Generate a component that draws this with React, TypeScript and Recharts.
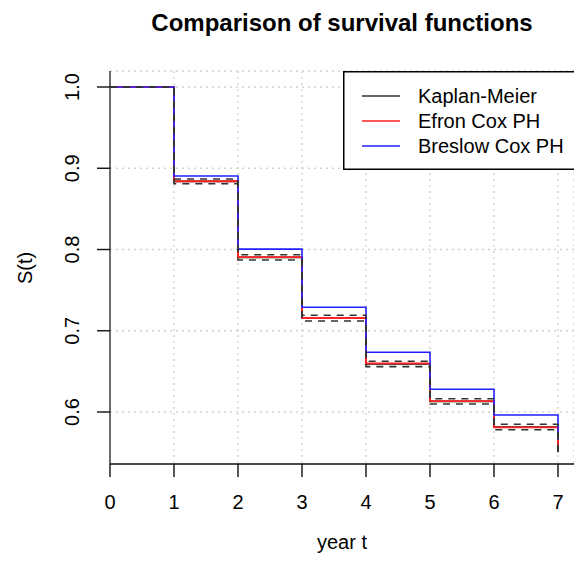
import React from "react";
import { LineChart, Line, XAxis, YAxis, CartesianGrid, Legend } from "recharts";

// ---- data ----
const years = [0, 1, 2, 3, 4, 5, 6, 7];
const kaplanMeier = [1, 0.8839, 0.7903, 0.7155, 0.6591, 0.6131, 0.5815, 0.5505];
const kmLower = [1, 0.881, 0.787, 0.712, 0.6558, 0.6098, 0.5782, 0.548];
const kmUpper = [1, 0.8868, 0.7935, 0.719, 0.6624, 0.6164, 0.5849, 0.553];
const efronCox = [1, 0.884, 0.7905, 0.7157, 0.6599, 0.6135, 0.5812, 0.552];
const breslowCox = [1, 0.8905, 0.8005, 0.7289, 0.6735, 0.628, 0.5963, 0.566];
const xTicks = [0, 1, 2, 3, 4, 5, 6, 7];
const yTicks = [0.6, 0.7, 0.8, 0.9, 1.0];
const legendNames = ["Kaplan-Meier", "Efron Cox PH", "Breslow Cox PH"];
const legendColors = ["#333333", "#ff2020", "#2020ff"];

const data = years.map((t, i) => ({
  t,
  km: kaplanMeier[i],
  lo: kmLower[i],
  hi: kmUpper[i],
  efron: efronCox[i],
  breslow: breslowCox[i],
}));

const FONT = "'Liberation Sans', Arial, Helvetica, sans-serif";

const YTick = (props: any) => {
  const { x, y, payload } = props;
  return (
    <text
      transform={`translate(${x - 18}, ${y}) rotate(-90)`}
      textAnchor="middle"
      fontSize={20}
      fontFamily={FONT}
      fill="#000"
    >
      {Number(payload.value).toFixed(1)}
    </text>
  );
};

const XTick = (props: any) => {
  const { x, y, payload } = props;
  return (
    <text x={x} y={y + 32} textAnchor="middle" fontSize={20} fontFamily={FONT} fill="#000">
      {payload.value}
    </text>
  );
};

const LegendBox = () => (
  <svg width={231} height={100} style={{ display: "block" }}>
    <rect x={0.75} y={0.75} width={260} height={97.5} fill="#fff" stroke="#000" strokeWidth={1.5} />
    {legendNames.map((n, i) => (
      <g key={n}>
        <line x1={19} x2={57} y1={25 + i * 25} y2={25 + i * 25} stroke={legendColors[i]} strokeWidth={1.6} />
        <text x={75} y={32 + i * 25} fontSize={20} fontFamily={FONT} fill="#000">
          {n}
        </text>
      </g>
    ))}
  </svg>
);

export default function App() {
  return (
    <div style={{ position: "absolute", left: 0, top: 0, width: 574, height: 564, background: "#fff" }}>
      <LineChart width={574} height={564} data={data} margin={{ top: 71, right: 0, bottom: 0, left: 0 }}>
        <CartesianGrid stroke="#d3d3d3" strokeDasharray="2 4" strokeWidth={1.4} />
        <XAxis
          dataKey="t"
          type="number"
          domain={[0, 7.25]}
          allowDataOverflow
          ticks={xTicks}
          height={100}
          tickSize={13}
          tickMargin={0}
          tick={<XTick />}
          axisLine={{ stroke: "#111", strokeWidth: 1.4 }}
          tickLine={{ stroke: "#111", strokeWidth: 1.4 }}
        />
        <XAxis
          xAxisId="top"
          orientation="top"
          dataKey="t"
          type="number"
          domain={[0, 7.25]}
          allowDataOverflow
          height={0}
          tick={false}
          tickLine={false}
          axisLine={{ stroke: "#333", strokeWidth: 1.4 }}
        />
        <YAxis
          type="number"
          domain={[0.536, 1.0197]}
          allowDataOverflow
          ticks={yTicks}
          width={110}
          tickSize={13}
          tickMargin={0}
          tick={<YTick />}
          axisLine={{ stroke: "#333", strokeWidth: 1.4 }}
          tickLine={{ stroke: "#111", strokeWidth: 1.4 }}
        />
        <Legend
          layout="vertical"
          align="center"
          verticalAlign="middle"
          content={<LegendBox />}
          wrapperStyle={{ position: "absolute", left: 343, top: 71, width: 231, height: 100 }}
        />
        <Line type="stepAfter" dataKey="km" name="Kaplan-Meier" stroke="#111" strokeWidth={1.6} dot={false} activeDot={false} isAnimationActive={false} />
        <Line type="stepAfter" dataKey="efron" name="Efron Cox PH" stroke="#ff2020" strokeWidth={1.8} dot={false} activeDot={false} isAnimationActive={false} />
        <Line type="stepAfter" dataKey="breslow" name="Breslow Cox PH" stroke="#2020ff" strokeWidth={1.6} dot={false} activeDot={false} isAnimationActive={false} />
        <Line type="stepAfter" dataKey="hi" stroke="#333" strokeWidth={1.6} strokeDasharray="7 6" dot={false} activeDot={false} isAnimationActive={false} legendType="none" />
        <Line type="stepAfter" dataKey="lo" stroke="#333" strokeWidth={1.6} strokeDasharray="7 6" dot={false} activeDot={false} isAnimationActive={false} legendType="none" />
      </LineChart>
      <svg width={574} height={564} style={{ position: "absolute", left: 0, top: 0, pointerEvents: "none" }}>
        <text x={342} y={31} textAnchor="middle" fontSize={24} fontWeight="bold" fontFamily={FONT} fill="#000">
          Comparison of survival functions
        </text>
        <text x={342} y={549} textAnchor="middle" fontSize={20} fontFamily={FONT} fill="#000">
          year t
        </text>
        <text transform="translate(32, 268) rotate(-90)" textAnchor="middle" fontSize={20} fontFamily={FONT} fill="#000">
          S(t)
        </text>
      </svg>
    </div>
  );
}
